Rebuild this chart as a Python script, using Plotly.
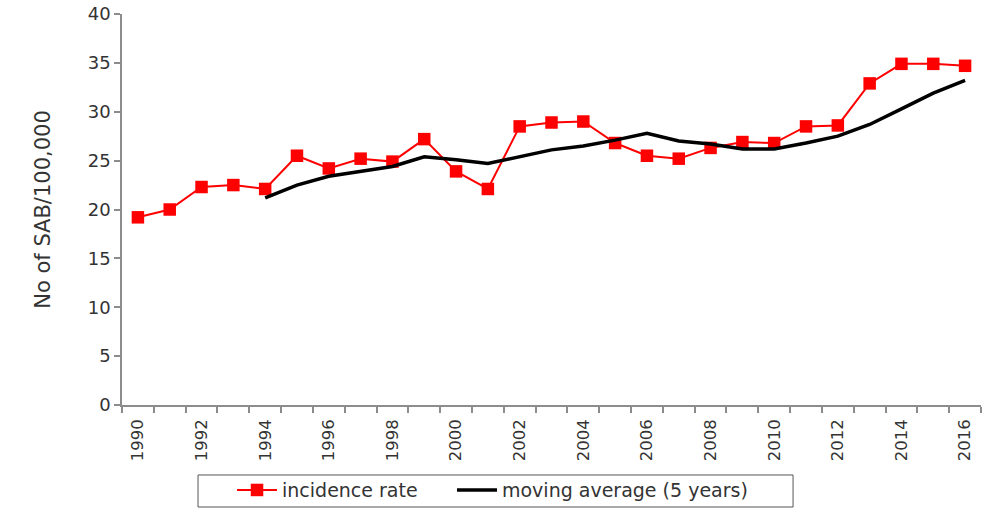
import plotly.graph_objects as go

years = list(range(1990, 2017))

incidence_rate = [19.2, 20.0, 22.3, 22.5, 22.1, 25.5, 24.2, 25.2, 24.9, 27.2,
                  23.9, 22.1, 28.5, 28.9, 29.0, 26.8, 25.5, 25.2, 26.3, 26.9,
                  26.8, 28.5, 28.6, 32.9, 34.9, 34.9, 34.7]

ma_years = list(range(1994, 2017))
moving_avg = [21.2, 22.5, 23.4, 23.9, 24.4, 25.4, 25.1, 24.7, 25.4, 26.1,
              26.5, 27.1, 27.8, 27.0, 26.7, 26.2, 26.2, 26.8, 27.5, 28.7,
              30.3, 31.9, 33.2]

x_labels = list(range(1990, 2017, 2))
y_ticks = list(range(0, 41, 5))

FONT = "DejaVu Sans"
AXIS_GREY = "#8c8c8c"
TEXT = "#333333"

fig = go.Figure()
fig.add_trace(go.Scatter(
    x=years, y=incidence_rate, name="incidence rate",
    mode="lines+markers",
    line=dict(color="#ff0000", width=2),
    marker=dict(symbol="square", size=12.5, color="#ff0000"),
    legend="legend",
))
fig.add_trace(go.Scatter(
    x=ma_years, y=moving_avg, name="moving average (5 years)",
    mode="lines",
    line=dict(color="#000000", width=3.5),
    legend="legend2",
))

fig.update_xaxes(
    range=[1989.5, 2016.5], automargin=False,
    tickvals=x_labels, ticktext=[str(v) for v in x_labels],
    tickangle=-90, ticks="", showgrid=False, zeroline=False,
    showline=True, linecolor=AXIS_GREY, linewidth=1.5,
    ticklabelstandoff=6,
    tickfont=dict(family=FONT, size=16.5, color=TEXT),
    minor=dict(ticks="outside", tick0=1989.5, dtick=1, ticklen=6,
               tickcolor=AXIS_GREY, tickwidth=1.5, showgrid=False),
)
fig.update_yaxes(
    range=[0, 40], tickvals=y_ticks, automargin="left",
    ticks="outside", ticklen=6, tickcolor=AXIS_GREY, tickwidth=1.5,
    showgrid=False, zeroline=False,
    showline=True, linecolor=AXIS_GREY, linewidth=1.5,
    tickfont=dict(family=FONT, size=18, color=TEXT),
    title=dict(text="No of SAB/100,000", standoff=31,
               font=dict(family=FONT, size=21, color=TEXT)),
)

# legend frame, drawn as a shape so the padding can match the original
fig.add_shape(type="rect", xref="paper", yref="paper",
              x0=0.0885, x1=0.7812, y0=-0.2609, y1=-0.179,
              line=dict(color="#555555", width=1), fillcolor="rgba(0,0,0,0)")

leg_common = dict(
    orientation="h", xref="container", yref="container",
    xanchor="left", y=0.039, yanchor="middle",
    borderwidth=0, bgcolor="rgba(0,0,0,0)",
    font=dict(family=FONT, size=19, color=TEXT),
    itemwidth=40,
)
fig.update_layout(
    width=989, height=510,
    margin=dict(l=122, r=8, t=14, b=105),
    paper_bgcolor="white", plot_bgcolor="white",
    font=dict(family=FONT, color=TEXT),
    showlegend=True,
    legend=dict(x=0.2346, **leg_common),
    legend2=dict(x=0.457, **leg_common),
)

fig.write_html("out.html", config={"displayModeBar": False},
               post_script="document.body.style.margin='0';")
